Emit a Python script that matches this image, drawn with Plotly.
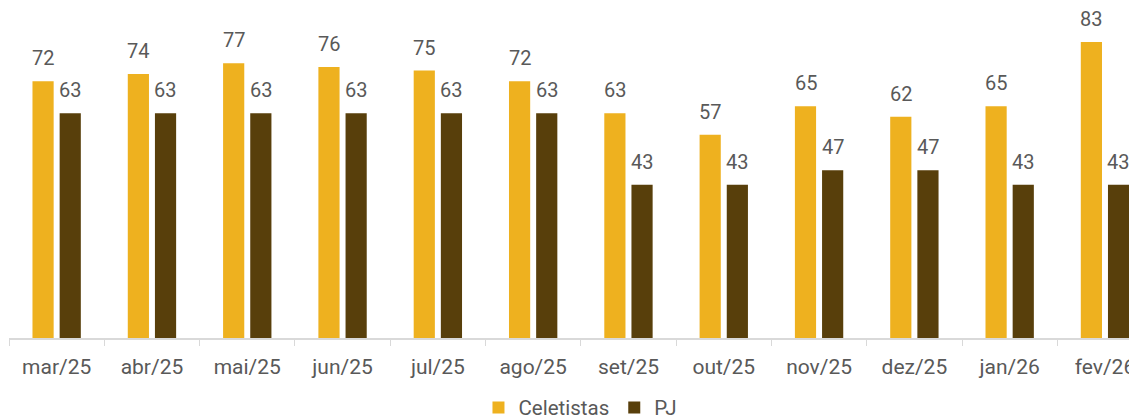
import plotly.graph_objects as go

categories = ["mar/25", "abr/25", "mai/25", "jun/25", "jul/25", "ago/25",
              "set/25", "out/25", "nov/25", "dez/25", "jan/26", "fev/26"]
celetistas = [72, 74, 77, 76, 75, 72, 63, 57, 65, 62, 65, 83]
pj = [63, 63, 63, 63, 63, 63, 43, 43, 47, 47, 43, 43]

YELLOW = "#EEB11F"
BROWN = "#583F0B"
TEXT = "#595959"
FONT = "Roboto"
FS = 20

fig = go.Figure()
series = [("Celetistas", celetistas, YELLOW, -13.5), ("PJ", pj, BROWN, 13.5)]
for name, vals, col, dx in series:
    fig.add_trace(go.Bar(
        x=categories, y=vals, name=name,
        marker=dict(color=col, line=dict(width=0)),
    ))
    for c, v in zip(categories, vals):
        fig.add_annotation(
            x=c, y=v, text=str(v), showarrow=False,
            xshift=dx, yshift=9, yanchor="bottom", xanchor="center",
            font=dict(family=FONT, size=FS, color=TEXT),
        )

fig.update_layout(
    width=1137, height=412,
    margin=dict(l=1, r=8, t=9, b=82, autoexpand=False),
    paper_bgcolor="white", plot_bgcolor="white",
    barmode="group", bargap=0.43, bargroupgap=0.22,
    font=dict(family=FONT, size=FS, color=TEXT),
    showlegend=True,
    legend=dict(orientation="h", xref="container", yref="container",
                x=0.5035, xanchor="center", y=0.03, yanchor="middle",
                font=dict(family=FONT, size=20.5, color=TEXT),
                traceorder="normal"),
    xaxis=dict(
        range=[-0.5, 11.336], tickson="boundaries",
        ticks="outside", ticklen=6, tickcolor="#D9D9D9", tickwidth=1,
        showline=True, linecolor="#D9D9D9", linewidth=1.5,
        showgrid=False, tickfont=dict(family=FONT, size=21, color=TEXT),
        ticklabelstandoff=9,
    ),
    yaxis=dict(range=[0, 90], visible=False, showgrid=False, zeroline=False),
)

fig.write_html("out.html")
